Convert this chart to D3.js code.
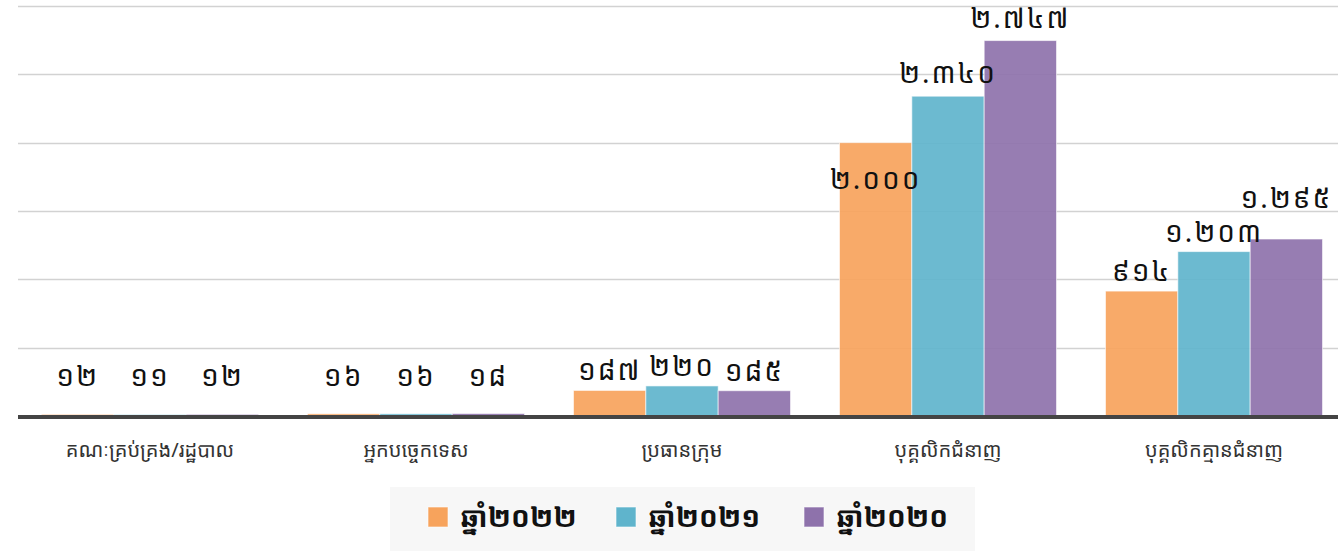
<!DOCTYPE html>
<html>
<head>
<meta charset="utf-8">
<script src="https://cdn.jsdelivr.net/npm/d3@7"></script>
<style>
  body { margin: 0; background: #fff; }
  svg { display: block; font-family: "Noto Sans Khmer", "Khmer OS", "Noto Sans", sans-serif; }
</style>
</head>
<body>
<div id="plot"></div>
<script>
// data
const categories = ['គណៈគ្រប់គ្រង/រដ្ឋបាល', 'អ្នកបច្ចេកទេស', 'ប្រធានក្រុម', 'បុគ្គលិកជំនាញ', 'បុគ្គលិកគ្មានជំនាញ'];
const seriesNames = ['ឆ្នាំ២០២២', 'ឆ្នាំ២០២១', 'ឆ្នាំ២០២០'];
const values2022 = [12, 16, 187, 2000, 914];
const values2021 = [11, 16, 220, 2340, 1203];
const values2020 = [12, 18, 185, 2747, 1295];
const yTicks = [0, 500, 1000, 1500, 2000, 2500, 3000];

const colors = ['#f7a35c', '#5fb4cc', '#8e72ab'];
const khmerDigits = '០១២៣៤៥៦៧៨៩';

const width = 1338, height = 551;
const y0 = 416;

function khmerNum(v) {
    const s = d3.format(',')(v).replace(/,/g, '.');
    return s.replace(/[0-9]/g, c => khmerDigits[+c]);
}

const rows = [];
const allValues = [values2022, values2021, values2020];
categories.forEach((c, i) => {
    seriesNames.forEach((s, j) => {
        rows.push({cat: c, series: s, idx: j, value: allValues[j][i]});
    });
});

const svg = d3.select('#plot')
    .append('svg')
    .attr('width', width)
    .attr('height', height);

const x0 = d3.scaleBand()
    .domain(categories)
    .range([17, 1347])
    .paddingInner(0.184)
    .paddingOuter(0.092);

const x1 = d3.scaleBand()
    .domain(seriesNames)
    .range([0, x0.bandwidth()]);

const y = d3.scaleLinear()
    .domain([0, 3000])
    .range([y0, 6]);

// grid
svg.append('g')
    .attr('class', 'grid')
    .selectAll('line')
    .data(yTicks.slice(1))
    .join('line')
    .attr('x1', 18)
    .attr('x2', width)
    .attr('y1', d => Math.round(y(d)) + 0.5)
    .attr('y2', d => Math.round(y(d)) + 0.5)
    .attr('stroke', '#d2d2d2')
    .attr('stroke-width', 1.5);

// bars
svg.append('g')
    .selectAll('rect')
    .data(rows)
    .join('rect')
    .attr('x', d => x0(d.cat) + x1(d.series))
    .attr('y', d => y(d.value))
    .attr('width', x1.bandwidth())
    .attr('height', d => y0 - y(d.value))
    .attr('fill', d => colors[d.idx])
    .attr('fill-opacity', 0.92)
    .attr('stroke', '#fff')
    .attr('stroke-opacity', 0.6)
    .attr('stroke-width', 1);

// baseline
svg.append('line')
    .attr('x1', 18)
    .attr('x2', width)
    .attr('y1', y0 + 1)
    .attr('y2', y0 + 1)
    .attr('stroke', '#444')
    .attr('stroke-width', 4);

// value labels (the 2022 skilled-staff label sits inside its bar in the original)
const labels = svg.append('g')
    .selectAll('text')
    .data(rows)
    .join('text')
    .attr('x', d => x0(d.cat) + x1(d.series) + x1.bandwidth() / 2)
    .attr('y', d => {
        if (d.value === 2000) return y(d.value) + 46;
        if (d.value > 2000) return y(d.value) - 13;
        return Math.min(y(d.value) - 10, y0 - 30);
    })
    .attr('text-anchor', 'middle')
    .attr('font-size', 28)
    .attr('letter-spacing', 2)
    .attr('fill', '#111')
    .text(d => khmerNum(d.value));

// push overlapping labels upward
const placed = [];
labels.each(function() {
    const node = d3.select(this);
    let b = this.getBBox();
    placed.forEach(p => {
        const overlapX = b.x < p.x + p.width && b.x + b.width > p.x;
        const overlapY = b.y < p.y + p.height - 6 && b.y + b.height - 6 > p.y;
        if (overlapX && overlapY) {
            const shift = (b.y + b.height - 6) - p.y + 2;
            node.attr('y', +node.attr('y') - shift);
            b = this.getBBox();
        }
    });
    placed.push(b);
});

// category labels
svg.append('g')
    .selectAll('text')
    .data(categories)
    .join('text')
    .attr('x', d => x0(d) + x0.bandwidth() / 2)
    .attr('y', 457)
    .attr('text-anchor', 'middle')
    .attr('font-size', 20)
    .attr('fill', '#333')
    .text(d => d);

// legend
const legend = svg.append('g');
legend.append('rect')
    .attr('x', 390)
    .attr('y', 487)
    .attr('width', 585)
    .attr('height', 64)
    .attr('fill', '#f7f7f7');

const legendX = [428, 616, 804];
const item = legend.selectAll('g')
    .data(seriesNames)
    .join('g')
    .attr('transform', (d, i) => `translate(${legendX[i]}, 507)`);

item.append('rect')
    .attr('width', 20)
    .attr('height', 20)
    .attr('fill', (d, i) => colors[i])
    .attr('stroke', '#fff')
    .attr('stroke-opacity', 0.6);

item.append('text')
    .attr('x', 32)
    .attr('y', 20)
    .attr('font-size', 28)
    .attr('font-weight', 'bold')
    .attr('fill', '#111')
    .text(d => d);
</script>
</body>
</html>
